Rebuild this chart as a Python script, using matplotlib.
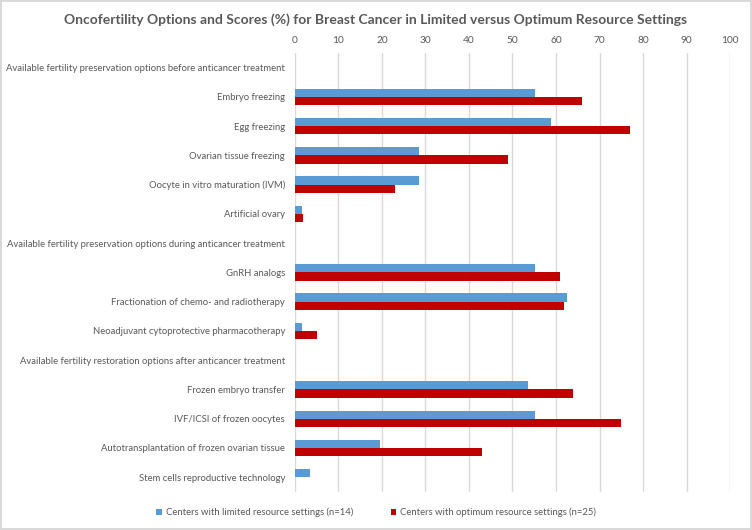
import matplotlib.pyplot as plt
import numpy as np

# categories, top to bottom
categories = [
    "Available fertility preservation options before anticancer treatment",
    "Embryo freezing",
    "Egg freezing",
    "Ovarian tissue freezing",
    "Oocyte in vitro maturation (IVM)",
    "Artificial ovary",
    "Available fertility preservation options during anticancer treatment",
    "GnRH analogs",
    "Fractionation of chemo- and radiotherapy",
    "Neoadjuvant cytoprotective pharmacotherapy",
    "Available fertility restoration options after anticancer treatment",
    "Frozen embryo transfer",
    "IVF/ICSI of frozen oocytes",
    "Autotransplantation of frozen ovarian tissue",
    "Stem cells reproductive technology",
]

# scores (%)
limited = [0, 55.2, 58.9, 28.5, 28.5, 1.7, 0, 55.2, 62.5, 1.7, 0, 53.5, 55.2, 19.6, 3.4]
optimum = [0, 65.9, 76.9, 48.9, 23.0, 2.0, 0, 60.9, 61.9, 5.0, 0, 63.9, 74.9, 42.9, 0]

label_limited = "Centers with limited resource settings (n=14)"
label_optimum = "Centers with optimum resource settings (n=25)"

plt.rcParams['font.family'] = ['Lato', 'DejaVu Sans']
text_color = '#595959'

fig = plt.figure(figsize=(7.52, 5.30), dpi=100, edgecolor='#D9D9D9', linewidth=1.5)
ax = fig.add_axes([0.392, 0.072, 0.579, 0.828])

y = np.arange(len(categories))
h = 0.28
ax.barh(y - h / 2, limited, height=h, color='#5B9BD5', label=label_limited, zorder=3)
ax.barh(y + h / 2, optimum, height=h, color='#C00000', label=label_optimum, zorder=3)

ax.set_ylim(len(categories) - 0.5, -0.5)
ax.set_xlim(0, 100)
ax.set_xticks(range(0, 101, 10))
ax.xaxis.tick_top()
ax.set_yticks(y)
ax.set_yticklabels(categories)
ax.tick_params(axis='both', length=0, colors=text_color)
ax.tick_params(axis='y', pad=7, labelsize=6.8)
ax.tick_params(axis='x', pad=6, labelsize=7.3)
ax.grid(axis='x', color='#D9D9D9', linewidth=1, zorder=0)
for s in ax.spines.values():
    s.set_visible(False)

fig.suptitle("Oncofertility Options and Scores (%) for Breast Cancer in Limited versus Optimum Resource Settings",
             x=0.5, y=0.975, fontsize=10, fontweight='bold', color=text_color)

fig.legend(loc='lower center', bbox_to_anchor=(0.5, 0.008), ncol=2, frameon=False,
           fontsize=6.8, labelcolor=text_color, handlelength=0.6, handleheight=0.6,
           columnspacing=4, handletextpad=0.4)

fig.savefig('out.png', dpi=100, edgecolor=fig.get_edgecolor())
